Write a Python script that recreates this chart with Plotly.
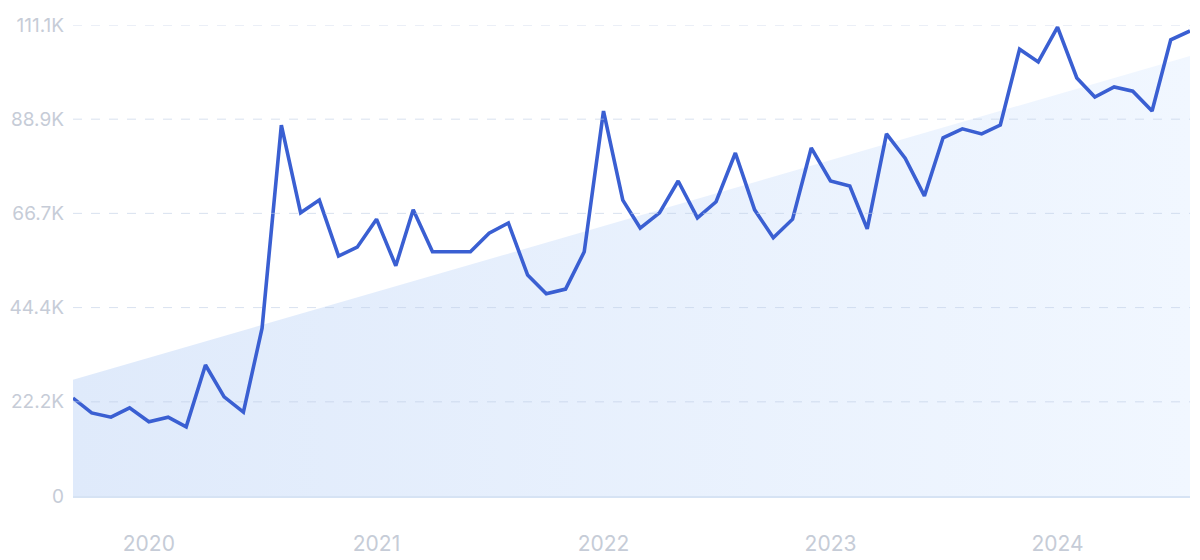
import plotly.graph_objects as go

months = [
    "2019-09-01","2019-10-01","2019-11-01","2019-12-01",
    "2020-01-01","2020-02-01","2020-03-01","2020-04-01","2020-05-01","2020-06-01",
    "2020-07-01","2020-08-01","2020-09-01","2020-10-01","2020-11-01","2020-12-01",
    "2021-01-01","2021-02-01","2021-03-01","2021-04-01","2021-05-01","2021-06-01",
    "2021-07-01","2021-08-01","2021-09-01","2021-10-01","2021-11-01","2021-12-01",
    "2022-01-01","2022-02-01","2022-03-01","2022-04-01","2022-05-01","2022-06-01",
    "2022-07-01","2022-08-01","2022-09-01","2022-10-01","2022-11-01","2022-12-01",
    "2023-01-01","2023-02-01","2023-03-01","2023-04-01","2023-05-01","2023-06-01",
    "2023-07-01","2023-08-01","2023-09-01","2023-10-01","2023-11-01","2023-12-01",
    "2024-01-01","2024-02-01","2024-03-01","2024-04-01","2024-05-01","2024-06-01",
    "2024-07-01","2024-08-01",
]
searches = [
    23100, 19600, 18600, 20800,
    17500, 18600, 16300, 30900, 23400, 19800,
    39600, 87500, 66800, 69800, 56600, 58700,
    65300, 54300, 67500, 57600, 57600, 57600,
    62000, 64400, 52100, 47700, 48800, 57600,
    90800, 69800, 63200, 66800, 74300, 65600,
    69400, 80900, 67500, 60900, 65300, 82100,
    74300, 73100, 63000, 85400, 79700, 70800,
    84500, 86600, 85400, 87500, 105400, 102400,
    110600, 98600, 94100, 96500, 95500, 90800,
    107600, 109700,
]
trend_dates = ["2019-09-01", "2024-08-01"]
trend_values = [27400, 103800]

y_tickvals = [0, 22220, 44440, 66670, 88890, 111100]
y_ticktext = ["0", "22.2K", "44.4K", "66.7K", "88.9K", "111.1K"]
x_tickvals = ["2020-01-01", "2021-01-01", "2022-01-01", "2023-01-01", "2024-01-01"]
x_ticktext = ["2020", "2021", "2022", "2023", "2024"]

fig = go.Figure()
fig.add_trace(go.Scatter(
    x=trend_dates, y=trend_values, mode="lines",
    line=dict(width=0, color="rgba(0,0,0,0)"),
    fill="tozeroy",
    fillgradient=dict(type="horizontal",
                      colorscale=[[0, "#dfeafb"], [1, "#f1f7ff"]]),
    hoverinfo="skip", showlegend=False,
))
fig.add_trace(go.Scatter(
    x=months, y=searches, mode="lines",
    line=dict(color="#3a5fd2", width=3.6),
    showlegend=False,
))

# dashed gridlines at the y tick values, visible over the trend fill
for v in y_tickvals[1:]:
    fig.add_shape(type="line", xref="paper", x0=0, x1=1, yref="y", y0=v, y1=v,
                  line=dict(color="rgba(190,205,228,0.6)", width=1, dash="dash"),
                  layer="above")

fig.update_layout(
    width=1200, height=560,
    margin=dict(l=73, r=10, t=25, b=64, autoexpand=False),
    paper_bgcolor="white", plot_bgcolor="white",
    xaxis=dict(
        type="date", range=["2019-09-01", "2024-08-01"],
        tickvals=x_tickvals, ticktext=x_ticktext,
        showgrid=False, zeroline=False, automargin=False,
        showline=True, linecolor="#d6e3f4", linewidth=1.5,
        ticks="", ticklabelstandoff=28,
        tickfont=dict(family="Inter, Open Sans, sans-serif", size=21, color="#c6ccd7"),
    ),
    yaxis=dict(
        range=[0, 111100],
        tickvals=y_tickvals, ticktext=y_ticktext,
        showgrid=False, zeroline=False, showline=False, automargin=False,
        ticks="", ticklabelstandoff=8,
        tickfont=dict(family="Inter, Open Sans, sans-serif", size=19, color="#c6ccd7"),
    ),
)
fig.write_html(
    "out.html",
    config={"displayModeBar": False},
    post_script="document.body.style.margin='0';document.body.style.overflow='hidden';",
)
